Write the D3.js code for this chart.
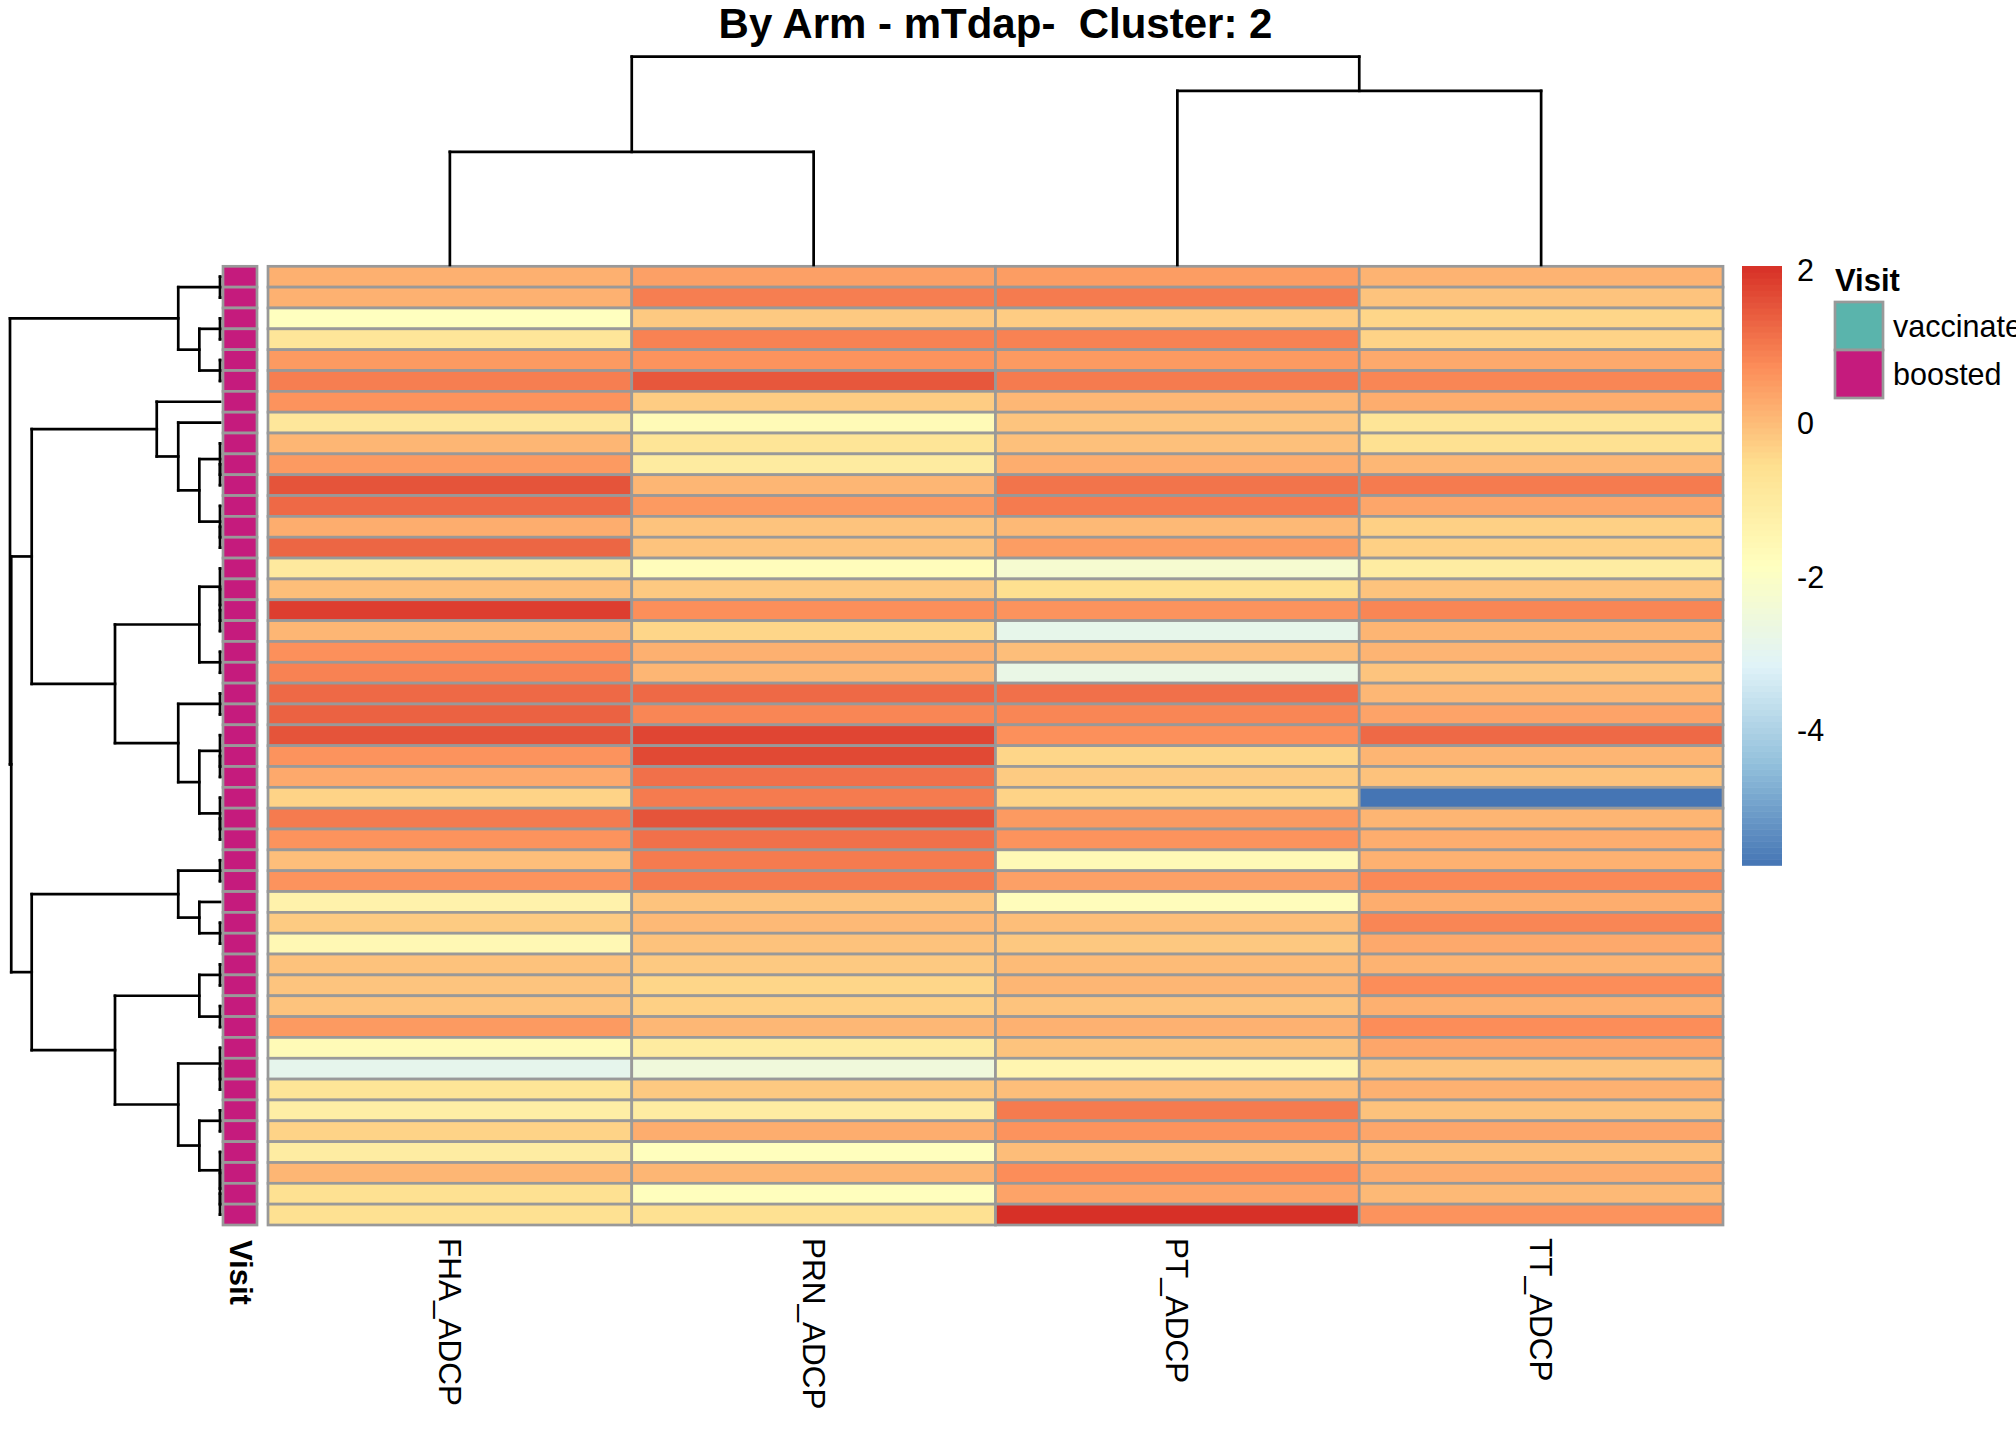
<!DOCTYPE html>
<html>
<head>
<meta charset="utf-8">
<script src="https://cdn.jsdelivr.net/npm/d3@7"></script>
<style>
  html, body { margin: 0; padding: 0; background: #fff; overflow: hidden; }
  text { font-family: "Liberation Sans", Arial, sans-serif; }
</style>
</head>
<body>
<svg id="chart" width="2016" height="1440"></svg>
<script>
// ---------------- data ----------------
const title = "By Arm - mTdap-  Cluster: 2";
const columns = ["FHA_ADCP", "PRN_ADCP", "PT_ADCP", "TT_ADCP"];

const fha = [0.2, 0.18, -1.85, -0.8, 0.55, 0.95, 0.65, -0.85, 0.1, 0.55,
             1.55, 1.25, 0.25, 1.3, -0.95, -0.02, 1.85, 0.1, 0.7, 0.9,
             1.25, 1.35, 1.55, 0.65, 0.3, -0.35, 1.0, 0.65, -0.03, 0.65,
             -1.3, -0.22, -1.55, -0.08, -0.12, -0.1, 0.55, -1.65, -2.9, -0.75,
             -1.15, -0.35, -1.05, 0.1, -0.6, -0.6];
const prn = [0.45, 0.95, -0.2, 0.9, 0.65, 1.5, -0.25, -1.65, -0.75, -1.0,
             0.1, 0.55, -0.1, -0.1, -1.75, -0.2, 0.72, -0.4, 0.2, 0.1,
             1.25, 0.85, 1.75, 1.7, 1.15, 1.0, 1.55, 1.15, 1.0, 1.0,
             -0.1, 0.05, -0.08, -0.2, -0.4, -0.3, 0.08, -1.0, -2.5, -0.2,
             -1.05, 0.25, -1.8, 0.1, -1.8, -0.6];
const pt  = [0.5, 1.0, -0.25, 0.9, 0.55, 1.0, 0.08, -0.12, -0.05, 0.25,
             1.1, 1.0, 0.05, 0.5, -2.25, -0.55, 0.65, -2.85, -0.03, -2.75,
             1.15, 0.85, 0.7, -0.4, -0.22, -0.35, 0.55, 0.65, -1.6, 0.45,
             -1.75, -0.02, -0.18, 0.03, 0.1, -0.1, 0.18, -0.1, -1.45, -0.03,
             1.0, 0.65, 0.0, 0.75, 0.4, 2.05];
const tt  = [0.15, -0.1, -0.4, -0.35, 0.3, 0.85, 0.25, -0.75, -0.6, 0.08,
             1.0, 0.35, -0.3, -0.3, -1.05, -0.1, 0.85, 0.12, 0.13, -0.12,
             0.08, 0.4, 1.25, 0.12, -0.08, -5.77, 0.12, 0.25, 0.18, 0.8,
             0.25, 0.85, 0.3, 0.15, 0.75, 0.2, 0.75, 0.35, -0.1, 0.18,
             -0.08, 0.35, -0.02, 0.25, 0.05, 0.65];

const visitLevels = ["vaccinated", "boosted"];
const visitColors = ["#5AB4AC", "#C51B7D"];
const rowVisit = ["boosted","boosted","boosted","boosted","boosted","boosted","boosted","boosted",
  "boosted","boosted","boosted","boosted","boosted","boosted","boosted","boosted",
  "boosted","boosted","boosted","boosted","boosted","boosted","boosted","boosted",
  "boosted","boosted","boosted","boosted","boosted","boosted","boosted","boosted",
  "boosted","boosted","boosted","boosted","boosted","boosted","boosted","boosted",
  "boosted","boosted","boosted","boosted","boosted","boosted"];

const palette = ["#4575B4", "#91BFDB", "#E0F3F8", "#FFFFBF", "#FEE090", "#FC8D59", "#D73027"];
const legendTicks = [-4, -2, 0, 2];

// dendrograms: [height, left, right]; leaves are row / column indices
const rowTree = [10.16,
  [2.02, [0, 0, 1], [1.0, [0, 2, 3], [0, 4, 5]]],
  [10.1,
    [9.11,
      [3.06, 6, [2.02, 7, [1.0, [0, 8, [0, 9, 10]], [0, 11, [0, 12, 13]]]]],
      [5.08,
        [1.0, [0, 14, [0, 15, [0, 16, 17]]], [0, 18, 19]],
        [2.02, [0, 20, 21], [1.0, [0, 22, [0, 23, 24]], [0, 25, [0, 26, 27]]]]]],
    [9.11,
      [2.02, [0, 28, 29], [1.0, 30, [0, 31, 32]]],
      [5.08,
        [1.0, [0, 33, 34], [0, 35, 36]],
        [2.02, [0, 37, [0, 38, 39]], [1.0, [0, 40, 41], [0, 42, [0, 43, [0, 44, 45]]]]]]]]];
const colTree = [10, [5.43, 0, 1], [8.36, 2, 3]];

// ---------------- layout ----------------
const svg = d3.select("#chart");
const hmLeft = 268, hmRight = 1723, hmTop = 266.3, hmBottom = 1225;
const nRows = fha.length;
const series = [fha, prn, pt, tt];

const xCol = d3.scaleBand().domain(d3.range(columns.length)).range([hmLeft, hmRight]);
const yRow = d3.scaleBand().domain(d3.range(nRows)).range([hmTop, hmBottom]);

const ext = d3.extent(series.flat());
const color = d3.scaleLinear()
  .domain(d3.range(palette.length).map(i => ext[0] + (ext[1] - ext[0]) * i / (palette.length - 1)))
  .range(palette)
  .interpolate(d3.interpolateRgb);

const cells = [];
series.forEach((s, c) => s.forEach((v, r) => cells.push({ r, c, v })));

const border = "#999999", bw = 2.7;

// heatmap cells
svg.append("g").selectAll("rect").data(cells).join("rect")
  .attr("x", d => xCol(d.c))
  .attr("y", d => yRow(d.r))
  .attr("width", xCol.bandwidth())
  .attr("height", yRow.bandwidth())
  .attr("fill", d => color(d.v))
  .attr("stroke", border)
  .attr("stroke-width", bw);

// annotation column
const annX = d3.scaleBand().domain(["Visit"]).range([223, 257]);
const visitColor = d3.scaleOrdinal().domain(visitLevels).range(visitColors);
svg.append("g").selectAll("rect").data(rowVisit).join("rect")
  .attr("x", annX("Visit"))
  .attr("y", (d, i) => yRow(i))
  .attr("width", annX.bandwidth())
  .attr("height", yRow.bandwidth())
  .attr("fill", d => visitColor(d))
  .attr("stroke", border)
  .attr("stroke-width", bw);

// ---------------- dendrograms ----------------
function buildNodes(tree, posOf) {
  const segs = [];
  function walk(n) {
    if (!Array.isArray(n)) return { h: 0, p: posOf(n) };
    const a = walk(n[1]), b = walk(n[2]);
    const h = n[0], p = (a.p + b.p) / 2;
    segs.push({ h1: a.h, h2: h, p1: a.p, p2: a.p });
    segs.push({ h1: h, h2: h, p1: a.p, p2: b.p });
    segs.push({ h1: b.h, h2: h, p1: b.p, p2: b.p });
    return { h, p };
  }
  walk(tree);
  return segs;
}

const rowH = d3.scaleLinear().domain([0, rowTree[0]]).range([220, 10]);
const rowSegs = buildNodes(rowTree, i => yRow(i) + yRow.bandwidth() / 2);
svg.append("g").selectAll("line").data(rowSegs).join("line")
  .attr("x1", d => rowH(d.h1)).attr("x2", d => rowH(d.h2))
  .attr("y1", d => d.p1).attr("y2", d => d.p2)
  .attr("stroke", "#000").attr("stroke-width", 2.7).attr("stroke-linecap", "square");

const colH = d3.scaleLinear().domain([0, colTree[0]]).range([265, 56.7]);
const colSegs = buildNodes(colTree, i => xCol(i) + xCol.bandwidth() / 2);
svg.append("g").selectAll("line").data(colSegs).join("line")
  .attr("y1", d => colH(d.h1)).attr("y2", d => colH(d.h2))
  .attr("x1", d => d.p1).attr("x2", d => d.p2)
  .attr("stroke", "#000").attr("stroke-width", 2.7).attr("stroke-linecap", "square");

// ---------------- labels ----------------
svg.append("text")
  .attr("x", (hmLeft + hmRight) / 2).attr("y", 38)
  .attr("text-anchor", "middle")
  .style("white-space", "pre")
  .attr("font-size", 42).attr("font-weight", "bold")
  .text(title);

svg.append("g").selectAll("text").data(columns).join("text")
  .attr("transform", (d, i) => `translate(${xCol(i) + xCol.bandwidth() / 2},1238) rotate(90)`)
  .attr("dominant-baseline", "central")
  .attr("font-size", 31.5)
  .text(d => d);

svg.append("text")
  .attr("transform", `translate(${annX("Visit") + annX.bandwidth() / 2},1240) rotate(90)`)
  .attr("dominant-baseline", "central")
  .attr("font-size", 31).attr("font-weight", "bold")
  .text("Visit");

// ---------------- colour legend ----------------
const legY = d3.scaleLinear().domain(ext).range([865.5, 266.3]);
const nSteps = 100;
const stepVals = d3.range(nSteps).map(i => ext[0] + (ext[1] - ext[0]) * (i + 0.5) / nSteps);
const stepH = (legY(ext[0]) - legY(ext[1])) / nSteps;
svg.append("g").selectAll("rect").data(stepVals).join("rect")
  .attr("x", 1742).attr("width", 40)
  .attr("y", d => legY(d) - stepH / 2 - 0.3)
  .attr("height", stepH + 0.6)
  .attr("fill", d => color(d));

svg.append("g").selectAll("text").data(legendTicks).join("text")
  .attr("x", 1797).attr("y", d => legY(d))
  .attr("dominant-baseline", "central")
  .attr("font-size", 30.5)
  .text(d => d);

// ---------------- annotation legend ----------------
svg.append("text")
  .attr("x", 1835).attr("y", 291)
  .attr("font-size", 31).attr("font-weight", "bold")
  .text("Visit");

const annLegY = d3.scaleBand().domain(visitLevels).range([302, 398]);
svg.append("g").selectAll("rect").data(visitLevels).join("rect")
  .attr("x", 1835).attr("y", d => annLegY(d))
  .attr("width", 48).attr("height", annLegY.bandwidth())
  .attr("fill", d => visitColor(d))
  .attr("stroke", border).attr("stroke-width", bw);
svg.append("g").selectAll("text").data(visitLevels).join("text")
  .attr("x", 1893).attr("y", d => annLegY(d) + annLegY.bandwidth() / 2)
  .attr("dominant-baseline", "central")
  .attr("font-size", 30.5)
  .text(d => d);
</script>
</body>
</html>
